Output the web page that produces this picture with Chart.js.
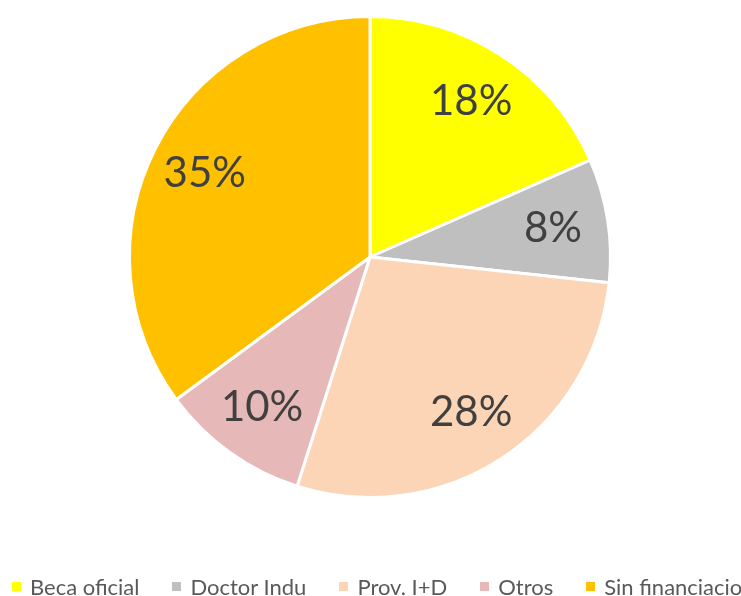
<!DOCTYPE html>
<html>
<head>
<meta charset="utf-8">
<script src="https://cdn.jsdelivr.net/npm/chart.js@4/dist/chart.umd.min.js"></script>
<style>
  html, body { margin: 0; padding: 0; background: #fff; overflow: hidden; }
  #wrap { position: relative; width: 741px; height: 596px; overflow: hidden; }
  #legend {
    position: absolute; left: 12px; top: 573px; white-space: nowrap;
    display: flex; font-family: Lato, "Open Sans", sans-serif; font-size: 22px; color: #595959;
  }
  .item { display: flex; align-items: center; margin-right: 33px; }
  .sw { width: 9px; height: 9px; margin-right: 9px; }
</style>
</head>
<body>
<div id="wrap">
  <canvas id="c" width="741" height="596"></canvas>
  <div id="legend"></div>
</div>
<script>
const categories = ["Beca oficial", "Doctor Indu", "Prov. I+D", "Otros", "Sin financiacio"];
const shares = [18.4, 8.3, 28.2, 10.0, 35.1];
const pctLabels = ["18%", "8%", "28%", "10%", "35%"];
const colors = ["#FFFF00", "#BFBFBF", "#FBD5B5", "#E6B8B7", "#FFC000"];

// etiquetas dentro de cada porción
const sliceLabels = {
  id: "sliceLabels",
  afterDatasetsDraw(chart) {
    const ctx = chart.ctx;
    const arcs = chart.getDatasetMeta(0).data;
    ctx.save();
    ctx.font = "42px Lato, 'Open Sans', sans-serif";
    ctx.fillStyle = "#404040";
    ctx.textAlign = "center";
    ctx.textBaseline = "middle";
    arcs.forEach((arc, i) => {
      const mid = (arc.startAngle + arc.endAngle) / 2;
      const r = arc.outerRadius * 0.77;
      ctx.fillText(pctLabels[i], arc.x + Math.cos(mid) * r, arc.y + Math.sin(mid) * r);
    });
    ctx.restore();
  }
};

new Chart(document.getElementById("c"), {
  type: "pie",
  data: {
    labels: categories,
    datasets: [{
      data: shares,
      backgroundColor: colors,
      borderColor: "#ffffff",
      borderWidth: 3
    }]
  },
  options: {
    responsive: false,
    animation: false,
    layout: { padding: { left: 128, right: 129, top: 14, bottom: 96 } },
    plugins: {
      legend: { display: false },
      tooltip: { enabled: false }
    }
  },
  plugins: [sliceLabels]
});

const legend = document.getElementById("legend");
categories.forEach((name, i) => {
  const item = document.createElement("div");
  item.className = "item";
  item.innerHTML = '<span class="sw" style="background:' + colors[i] + '"></span><span>' + name + '</span>';
  legend.appendChild(item);
});
</script>
</body>
</html>
